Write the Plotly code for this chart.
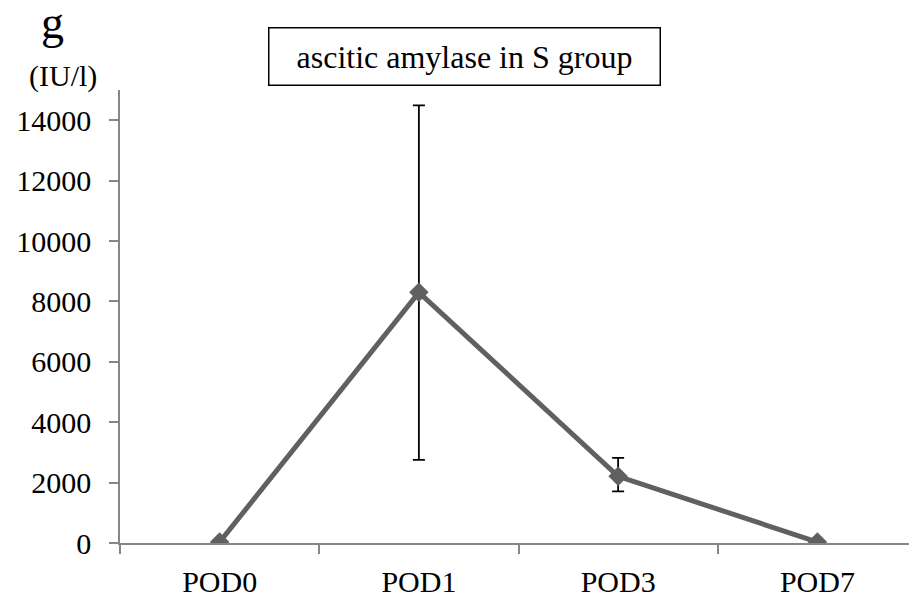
import plotly.graph_objects as go

categories = ["POD0", "POD1", "POD3", "POD7"]
values = [30, 8300, 2210, 30]
err_plus = [0, 6190, 610, 0]
err_minus = [0, 5550, 500, 0]
y_ticks = [0, 2000, 4000, 6000, 8000, 10000, 12000, 14000]
title_text = "ascitic amylase in S group"
unit_text = "(IU/l)"
panel_letter = "g"

# page body has an 8px default margin; lay out in screen pixels and compensate
OFF = 8
W, H = 917 - OFF, 600 - OFF
L, T = 120 - OFF, 90 - OFF
R = 0
B = H - (543.5 - OFF)
FONT = "Liberation Serif, Times New Roman, serif"


def px(x):
    return (x - OFF - L) / (W - L - R)


def py(y):
    return 1 - (y - OFF - T) / (H - T - B)


fig = go.Figure()
fig.add_trace(go.Scatter(
    x=categories, y=values, mode="lines+markers",
    line=dict(color="#606060", width=5),
    marker=dict(symbol="diamond", size=15, color="#606060"),
    error_y=dict(type="data", symmetric=False, array=err_plus, arrayminus=err_minus,
                 color="black", thickness=1.8, width=6),
    showlegend=False,
))

axis_color = "#868686"
fig.update_layout(
    width=W, height=H,
    margin=dict(l=L, r=R, t=T, b=B, pad=0),
    plot_bgcolor="white", paper_bgcolor="white",
    font=dict(family=FONT, color="black", size=30),
    xaxis=dict(
        type="category", range=[-0.5, 3.5], tickson="boundaries",
        ticks="outside", ticklen=9, tickcolor=axis_color, tickwidth=1.5,
        showline=True, linecolor=axis_color, linewidth=1.5,
        showgrid=False, zeroline=False, ticklabelstandoff=11,
        tickfont=dict(family=FONT, size=30),
    ),
    yaxis=dict(
        range=[0, 15000], tickvals=y_ticks, ticktext=[str(v) for v in y_ticks],
        ticks="outside", ticklen=9, tickcolor=axis_color, tickwidth=1.5,
        showline=True, linecolor=axis_color, linewidth=1.5,
        showgrid=False, zeroline=False, ticklabelstandoff=12,
        tickfont=dict(family=FONT, size=30),
    ),
    annotations=[
        dict(text=title_text, xref="paper", yref="paper", x=px(464), y=py(56),
             showarrow=False, xanchor="center", yanchor="middle",
             width=386, height=52, align="center", valign="middle",
             font=dict(family=FONT, size=32), bordercolor="black", borderwidth=1.5,
             borderpad=2, bgcolor="white"),
        dict(text=unit_text, xref="paper", yref="paper", x=px(63), y=py(76),
             showarrow=False, xanchor="center", yanchor="middle",
             font=dict(family=FONT, size=30)),
        dict(text=panel_letter, xref="paper", yref="paper", x=px(52), y=py(22),
             showarrow=False, xanchor="center", yanchor="middle",
             font=dict(family=FONT, size=46)),
    ],
)

fig.write_html("out.html")
